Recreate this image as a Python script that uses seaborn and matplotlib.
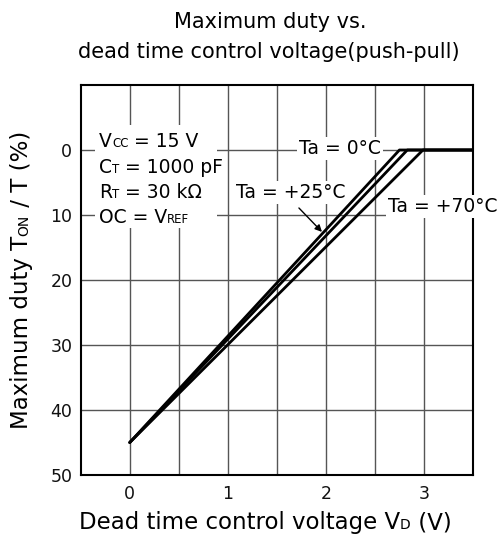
import matplotlib
matplotlib.use('Agg')
import numpy as np
import pandas as pd
import matplotlib.pyplot as plt
import matplotlib.patches as mpatches
from matplotlib.transforms import IdentityTransform
import seaborn as sns

# curves: (dead time voltage V, max duty %)
temps = ['Ta = 0°C', 'Ta = +25°C', 'Ta = +70°C']
vd_0c = [0.0, 2.75, 3.5]
duty_0c = [45, 0, 0]
vd_25c = [0.0, 2.83, 3.5]
duty_25c = [45, 0, 0]
vd_70c = [0.0, 2.99, 3.5]
duty_70c = [45, 0, 0]

x_ticks = [0, 1, 2, 3]
x_minor = [0.5, 1.5, 2.5]
y_ticks = [0, 10, 20, 30, 40, 50]

df = pd.DataFrame({
    'vd': vd_0c + vd_25c + vd_70c,
    'duty': duty_0c + duty_25c + duty_70c,
    'temp': [temps[0]] * len(vd_0c) + [temps[1]] * len(vd_25c) + [temps[2]] * len(vd_70c),
})

sns.set_theme(style='white')
plt.rcParams['font.family'] = ['DejaVu Sans']
plt.rcParams['text.color'] = 'black'

W, H = 497, 538
fig = plt.figure(figsize=(W / 100, H / 100), dpi=100)
ax = fig.add_axes([80.7 / W, 1 - 475 / H, (473 - 80.7) / W, (475 - 85) / H])

sns.lineplot(data=df, x='vd', y='duty', hue='temp', palette=['black'] * 3,
             linewidth=2, legend=False, estimator=None, ax=ax)

ax.set_xlim(-0.5, 3.5)
ax.set_ylim(50, -10)
ax.set_xticks(x_ticks)
ax.set_xticks(x_minor, minor=True)
ax.set_yticks(y_ticks)
ax.set_xlabel('')
ax.set_ylabel('')
ax.grid(True, which='both', color='#555555', lw=1)
ax.set_axisbelow(True)
ax.tick_params(which='both', length=0)
ax.tick_params(axis='both', labelsize=12.5, colors='#111111')
ax.tick_params(axis='x', pad=7)
ax.tick_params(axis='y', pad=6)
for sp in ax.spines.values():
    sp.set_color('black')
    sp.set_linewidth(1.5)

# white patch behind the test conditions
ax.add_patch(mpatches.Rectangle((-0.354, -3.85), 1.244, 15.85, facecolor='white',
                                edgecolor='none', zorder=1.5))

# curve labels
box = dict(facecolor='white', edgecolor='none', boxstyle='square,pad=0.12')
ax.text(2.144, 0.62, temps[0], fontsize=13.5, ha='center', va='baseline', bbox=box, zorder=3)
ax.text(1.64, 7.38, temps[1], fontsize=13.5, ha='center', va='baseline', bbox=box, zorder=3)
ax.text(3.19, 9.54, temps[2], fontsize=13.5, ha='center', va='baseline', bbox=box,
        zorder=3, clip_on=False)
ax.annotate('', xy=(1.96, 12.6), xytext=(1.725, 8.92),
            arrowprops=dict(arrowstyle='-|>', color='black', lw=1, mutation_scale=10,
                            shrinkA=0, shrinkB=0), zorder=3)

fig.canvas.draw()
renderer = fig.canvas.get_renderer()


def text_width(s, size):
    a = fig.text(0, 0, 'x' + s + 'x', fontsize=size)
    b = fig.text(0, 0, 'xx', fontsize=size)
    w = a.get_window_extent(renderer).width - b.get_window_extent(renderer).width
    a.remove()
    b.remove()
    return w


def rich_text(x, y, parts, ha='left', rotation=0):
    # x, y: display pixels of the baseline anchor; parts: (text, fontsize)
    widths = [text_width(s, fs) for s, fs in parts]
    total = sum(widths)
    pos = -{'left': 0, 'center': total / 2, 'right': total}[ha]
    for (s, fs), w in zip(parts, widths):
        px, py = (x, y + pos) if rotation == 90 else (x + pos, y)
        fig.text(px, py, s, fontsize=fs, transform=IdentityTransform(), ha='left',
                 va='baseline', rotation=rotation, rotation_mode='anchor', zorder=3)
        pos += w


big, small = 13.5, 8.5
spec = [
    [('V', big), ('CC', small), (' = 15 V', big)],
    [('C', big), ('T', small), (' = 1000 pF', big)],
    [('R', big), ('T', small), (' = 30 kΩ', big)],
    [('OC = V', big), ('REF', small)],
]
spec_y = [-0.46, 3.54, 7.38, 11.23]
for parts, yy in zip(spec, spec_y):
    dx, dy = ax.transData.transform((-0.313, yy))
    rich_text(dx, dy, parts)

# title and axis labels
fig.text(270 / W, 1 - 28 / H, 'Maximum duty vs.', fontsize=15, ha='center', va='baseline')
fig.text(269 / W, 1 - 58 / H, 'dead time control voltage(push-pull)', fontsize=15,
         ha='center', va='baseline')
rich_text(265, H - 529, [('Dead time control voltage V', 16.5), ('D', 10), (' (V)', 16.5)],
          ha='center')
rich_text(28, H - 280, [('Maximum duty T', 16.5), ('ON', 10), (' / T (%)', 16.5)],
          ha='center', rotation=90)

fig.savefig('out.png', dpi=100)
